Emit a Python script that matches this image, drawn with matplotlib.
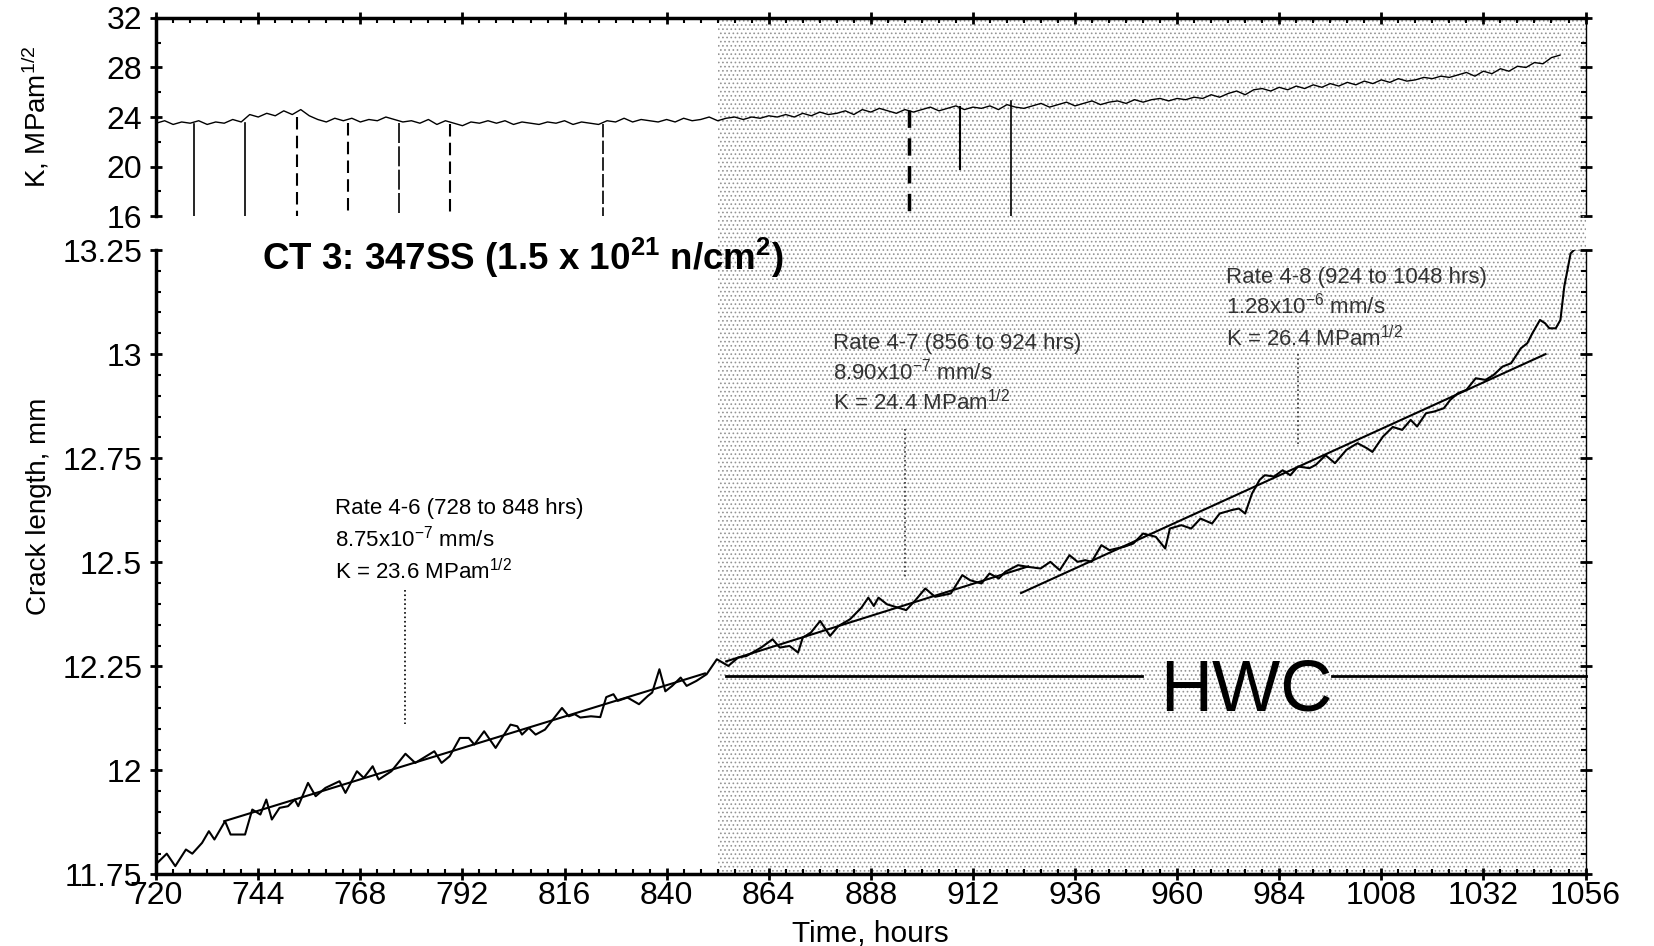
import numpy as np
import matplotlib.pyplot as plt
from matplotlib.ticker import MultipleLocator, FormatStrFormatter

plt.rcParams["font.family"] = ["Liberation Sans", "DejaVu Sans"]
plt.rcParams["mathtext.fontset"] = "custom"
plt.rcParams["mathtext.rm"] = "Liberation Sans"
plt.rcParams["mathtext.it"] = "Liberation Sans:italic"
plt.rcParams["mathtext.bf"] = "Liberation Sans:bold"
plt.rcParams["hatch.linewidth"] = 0.7

# Crack length trace (hours, mm)
crack_time = [
    720.5, 722.5, 724.5, 727.0, 728.5, 730.8, 732.4, 733.7, 736.2, 737.5,
    740.9, 742.6, 744.5, 745.9, 747.2, 749.0, 751.0, 752.6, 753.4, 755.7,
    757.5, 759.8, 763.1, 764.5, 767.2, 768.8, 770.9, 772.3, 775.3, 778.6,
    780.9, 785.4, 787.1, 789.0, 791.4, 793.5, 794.8, 797.1, 799.8, 803.3,
    804.9, 806.0, 807.6, 809.2, 811.4, 815.4, 817.0, 818.4, 819.7, 822.2,
    824.4, 825.8, 827.5, 828.5, 830.8, 833.5, 835.6, 836.6, 838.3, 839.7,
    841.3, 843.3, 844.7, 847.0, 849.4, 851.8, 854.5, 856.8, 858.8, 862.2,
    864.9, 866.6, 868.9, 870.9, 872.0, 873.9, 876.1, 878.4, 880.4, 883.1,
    885.8, 887.4, 888.7, 889.8, 891.8, 896.3, 898.5, 900.8, 903.1, 906.8,
    909.5, 911.3, 914.0, 915.9, 918.1, 919.6, 922.6, 924.9, 927.9, 930.2,
    932.4, 934.7, 936.6, 938.4, 939.9, 942.2, 944.1, 945.7, 947.5, 949.7,
    952.0, 955.0, 957.2, 958.3, 961.0, 963.3, 965.5, 968.2, 970.0, 972.7,
    974.5, 976.0, 977.6, 979.4, 980.6, 982.8, 984.8, 986.6, 988.4, 991.1,
    992.6, 994.9, 997.1, 999.8, 1002.4, 1004.6, 1005.9, 1008.4, 1010.7, 1012.9,
    1014.9, 1016.4, 1018.5, 1020.4, 1022.7, 1024.2, 1026.0, 1028.0, 1030.2, 1032.5,
    1034.4, 1036.5, 1038.5, 1040.8, 1042.3, 1043.5, 1045.3, 1046.5, 1047.5, 1049.0,
    1050.1, 1051.0, 1052.5, 1053.5, 1056.0,
]
crack_length = [
    11.780, 11.800, 11.770, 11.810, 11.800, 11.826, 11.854, 11.834, 11.878, 11.846,
    11.846, 11.906, 11.894, 11.930, 11.882, 11.910, 11.914, 11.930, 11.914, 11.970,
    11.938, 11.958, 11.974, 11.946, 11.998, 11.982, 12.010, 11.978, 11.998, 12.040,
    12.018, 12.046, 12.018, 12.034, 12.078, 12.078, 12.062, 12.094, 12.054, 12.110,
    12.106, 12.086, 12.102, 12.086, 12.098, 12.150, 12.130, 12.135, 12.127, 12.130,
    12.128, 12.176, 12.183, 12.167, 12.175, 12.159, 12.179, 12.187, 12.243, 12.190,
    12.203, 12.223, 12.203, 12.215, 12.231, 12.267, 12.251, 12.271, 12.275, 12.295,
    12.315, 12.295, 12.299, 12.283, 12.319, 12.331, 12.359, 12.323, 12.347, 12.363,
    12.391, 12.415, 12.395, 12.415, 12.399, 12.385, 12.409, 12.437, 12.417, 12.425,
    12.469, 12.457, 12.449, 12.473, 12.461, 12.477, 12.493, 12.489, 12.485, 12.501,
    12.481, 12.517, 12.501, 12.505, 12.501, 12.541, 12.529, 12.533, 12.537, 12.545,
    12.569, 12.561, 12.533, 12.581, 12.589, 12.581, 12.605, 12.593, 12.617, 12.625,
    12.629, 12.617, 12.665, 12.698, 12.709, 12.706, 12.721, 12.709, 12.730, 12.726,
    12.734, 12.757, 12.738, 12.770, 12.786, 12.774, 12.765, 12.802, 12.825, 12.818,
    12.842, 12.826, 12.858, 12.862, 12.870, 12.890, 12.906, 12.914, 12.942, 12.938,
    12.950, 12.970, 12.978, 13.014, 13.026, 13.050, 13.082, 13.074, 13.062, 13.062,
    13.082, 13.162, 13.242, 13.252, 13.252,
]

# Linear fits (start, end) for each rate period
fit_time = [(736.0, 849.0), (854.0, 925.0), (923.3, 1046.6)]
fit_length = [(11.878, 12.233), (12.262, 12.490), (12.426, 13.000)]

# Stress intensity trace, sampled every 2 hours from 720 to 1050
k_time = np.arange(720, 1051, 2)
k_value = [
    23.5, 23.7, 23.4, 23.6, 23.5, 23.7, 23.4, 23.6, 23.5, 23.8,
    23.6, 24.2, 24.0, 24.3, 24.1, 24.5, 24.2, 24.6, 24.1, 23.8,
    23.6, 23.9, 23.7, 23.9, 23.6, 23.8, 23.7, 24.0, 23.8, 23.6,
    23.7, 23.5, 23.8, 23.4, 23.7, 23.5, 23.3, 23.6, 23.5, 23.7,
    23.5, 23.7, 23.4, 23.6, 23.5, 23.4, 23.6, 23.5, 23.7, 23.4,
    23.6, 23.5, 23.4, 23.7, 23.6, 23.9, 23.6, 23.8, 23.7, 23.6,
    23.8, 23.6, 23.9, 23.7, 23.8, 24.0, 23.7, 23.9, 24.0, 23.8,
    24.0, 23.9, 24.1, 24.0, 24.2, 24.0, 24.3, 24.1, 24.4, 24.2,
    24.3, 24.5, 24.2, 24.6, 24.4, 24.7, 24.5, 24.3, 24.6, 24.4,
    24.6, 24.8, 24.5, 24.7, 24.9, 24.6, 24.8, 24.7, 24.9, 24.6,
    25.0, 24.8, 24.7, 24.9, 25.1, 24.8, 25.0, 25.2, 24.9, 25.1,
    25.3, 25.0, 25.2, 25.3, 25.1, 25.4, 25.2, 25.4, 25.5, 25.3,
    25.5, 25.4, 25.6, 25.5, 25.8, 25.6, 25.9, 26.1, 25.8, 26.2,
    26.3, 26.1, 26.4, 26.2, 26.5, 26.3, 26.6, 26.4, 26.7, 26.5,
    26.8, 26.6, 26.9, 26.7, 27.0, 26.8, 27.1, 26.9, 27.0, 27.2,
    27.1, 27.3, 27.2, 27.4, 27.6, 27.3, 27.7, 27.5, 27.9, 27.7,
    28.1, 28.0, 28.4, 28.3, 28.8, 29.0,
]

# Periodic unloading dips in K
dip_time = [729, 741, 753, 765, 777, 789, 825, 897, 909, 921]
dip_top = [23.4, 23.5, 24.0, 23.5, 23.5, 23.4, 23.4, 24.6, 24.8, 25.3]
dip_bottom = [16, 16, 16, 16, 16, 16, 16, 16, 19.8, 16]
dip_style = ["-", "-", (0, (6, 3)), (0, (6, 3)), (0, (12, 2)), (0, (6, 3)),
             (0, (8, 2)), (0, (5, 3)), "-", "-"]
dip_width = [1.2, 1.2, 1.5, 1.5, 1.2, 1.5, 1.2, 2.5, 1.5, 1.2]

HWC_START = 852

fig = plt.figure(figsize=(16.54, 9.46), dpi=100)
ax_k = fig.add_axes([0.0944, 0.7716, 0.8642, 0.2094])
ax = fig.add_axes([0.0944, 0.0756, 0.8642, 0.6601])

# Stippled HWC region across both panels
hatch_kw = dict(facecolor="none", edgecolor="#959595", hatch="....",
                linewidth=0, zorder=0.5)
ax_k.axvspan(HWC_START, 1056, **hatch_kw)
gap_top = (ax_k.get_position().y0 - ax.get_position().y0) / ax.get_position().height
ax.axvspan(HWC_START, 1056, ymin=0, ymax=gap_top, clip_on=False, **hatch_kw)

# Top panel: K
ax_k.plot(k_time, k_value, color="black", lw=1.0)
for t, top, bot, ls, lw in zip(dip_time, dip_top, dip_bottom, dip_style, dip_width):
    ax_k.plot([t, t], [top, bot], color="black", ls=ls, lw=lw)

ax_k.set_xlim(720, 1056)
ax_k.set_ylim(16, 32)
ax_k.xaxis.set_major_locator(MultipleLocator(24))
ax_k.xaxis.set_minor_locator(MultipleLocator(4))
ax_k.yaxis.set_major_locator(MultipleLocator(4))
ax_k.yaxis.set_minor_locator(MultipleLocator(2))
ax_k.tick_params(axis="x", which="both", top=True, bottom=False,
                 labeltop=False, labelbottom=False)
ax_k.tick_params(axis="y", which="both", left=True, right=True, labelright=False)
ax_k.set_ylabel(r"K, MPam$^{1/2}$", fontsize=20)
ax_k.yaxis.set_label_coords(-0.073, 0.5)
ax_k.spines["bottom"].set_visible(False)

# Bottom panel: crack length
ax.plot(crack_time, crack_length, color="black", lw=1.5, zorder=2)
for (t0, t1), (a0, a1) in zip(fit_time, fit_length):
    ax.plot([t0, t1], [a0, a1], color="black", lw=1.5, zorder=2)

ax.set_xlim(720, 1056)
ax.set_ylim(11.75, 13.25)
ax.xaxis.set_major_locator(MultipleLocator(24))
ax.xaxis.set_minor_locator(MultipleLocator(4))
ax.yaxis.set_major_locator(MultipleLocator(0.25))
ax.yaxis.set_minor_locator(MultipleLocator(0.05))
ax.yaxis.set_major_formatter(FormatStrFormatter("%g"))
ax.tick_params(axis="y", which="both", left=True, right=True, labelright=False)
ax.set_xlabel("Time, hours", fontsize=21.5)
ax.set_ylabel("Crack length, mm", fontsize=20)
ax.xaxis.set_label_coords(0.5, -0.073)
ax.yaxis.set_label_coords(-0.073, 0.59)
ax.spines["top"].set_visible(False)

for a in (ax_k, ax):
    for side in ("left", "bottom", "top"):
        a.spines[side].set_linewidth(2.5)
    a.spines["right"].set_linewidth(1.0)
    a.tick_params(which="major", direction="inout", length=8, width=2,
                  labelsize=23)
    a.tick_params(which="minor", direction="in", length=3.5, width=1.5)
    a.tick_params(axis="y", which="major", pad=6)
    a.tick_params(axis="x", which="major", pad=1)
    a.set_facecolor("none")

# Specimen label
ax.text(0.074, 0.968,
        r"CT 3: 347SS (1.5 x 10$^{\mathbf{21}}$ n/cm$^{\mathbf{2}}$)",
        transform=ax.transAxes, fontsize=26.5, fontweight="bold",
        va="baseline", ha="left", zorder=5)

# Rate annotations
ann_kw = dict(fontsize=16, va="baseline", ha="left")
ax.text(762.0, 12.616, "Rate 4-6 (728 to 848 hrs)", **ann_kw)
ax.text(762.0, 12.538, r"8.75x10$^{-7}$ mm/s", **ann_kw)
ax.text(762.0, 12.460, r"K = 23.6 MPam$^{1/2}$", **ann_kw)
ax.plot([778.6, 778.6], [12.433, 12.112], color="black", ls=":", lw=1.2)

ax.text(879.2, 13.013, "Rate 4-7 (856 to 924 hrs)", color="#333333", **ann_kw)
ax.text(879.2, 12.940, r"8.90x10$^{-7}$ mm/s", color="#333333", **ann_kw)
ax.text(879.2, 12.866, r"K = 24.4 MPam$^{1/2}$", color="#333333", **ann_kw)
ax.plot([896.0, 896.0], [12.82, 12.46], color="#333333", ls=":", lw=1.2)

ax.text(971.4, 13.171, "Rate 4-8 (924 to 1048 hrs)", color="#333333", **ann_kw)
ax.text(971.4, 13.097, r"1.28x10$^{-6}$ mm/s", color="#333333", **ann_kw)
ax.text(971.4, 13.020, r"K = 26.4 MPam$^{1/2}$", color="#333333", **ann_kw)
ax.plot([988.3, 988.3], [13.0, 12.78], color="#333333", ls=":", lw=1.2)

# HWC label with broken line
ax.plot([854.0, 951.8], [12.227, 12.227], color="black", lw=2)
ax.plot([996.4, 1056.0], [12.227, 12.227], color="black", lw=2, clip_on=False)
ax.text(976.2, 12.143, "HWC", fontsize=52, ha="center", va="baseline")

fig.savefig("out.png", dpi=100)
